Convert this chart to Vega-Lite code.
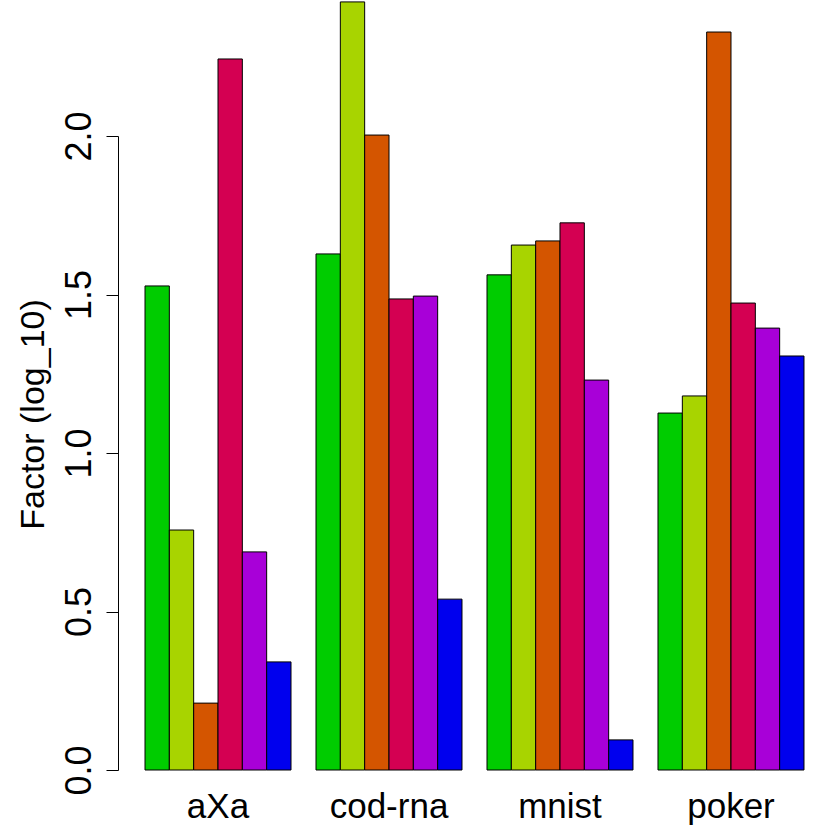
{
  "$schema": "https://vega.github.io/schema/vega-lite/v6.json",
  "autosize": {"type": "none"},
  "width": 713,
  "height": 634,
  "padding": {"left": 118, "top": 136, "right": 0, "bottom": 60},
  "background": "white",
  "config": {"view": {"stroke": null}, "font": "Liberation Sans"},
  "data": {"values": [
    {"dataset": "aXa", "method": "m1", "value": 1.527},
    {"dataset": "aXa", "method": "m2", "value": 0.757},
    {"dataset": "aXa", "method": "m3", "value": 0.211},
    {"dataset": "aXa", "method": "m4", "value": 2.243},
    {"dataset": "aXa", "method": "m5", "value": 0.688},
    {"dataset": "aXa", "method": "m6", "value": 0.341},
    {"dataset": "cod-rna", "method": "m1", "value": 1.628},
    {"dataset": "cod-rna", "method": "m2", "value": 2.423},
    {"dataset": "cod-rna", "method": "m3", "value": 2.003},
    {"dataset": "cod-rna", "method": "m4", "value": 1.486},
    {"dataset": "cod-rna", "method": "m5", "value": 1.495},
    {"dataset": "cod-rna", "method": "m6", "value": 0.539},
    {"dataset": "mnist", "method": "m1", "value": 1.562},
    {"dataset": "mnist", "method": "m2", "value": 1.656},
    {"dataset": "mnist", "method": "m3", "value": 1.669},
    {"dataset": "mnist", "method": "m4", "value": 1.726},
    {"dataset": "mnist", "method": "m5", "value": 1.230},
    {"dataset": "mnist", "method": "m6", "value": 0.095},
    {"dataset": "poker", "method": "m1", "value": 1.126},
    {"dataset": "poker", "method": "m2", "value": 1.180},
    {"dataset": "poker", "method": "m3", "value": 2.328},
    {"dataset": "poker", "method": "m4", "value": 1.473},
    {"dataset": "poker", "method": "m5", "value": 1.394},
    {"dataset": "poker", "method": "m6", "value": 1.306}
  ]},
  "mark": {"type": "bar", "stroke": "black", "strokeWidth": 1, "opacity": 1},
  "encoding": {
    "x": {
      "field": "dataset", "type": "nominal",
      "scale": {"paddingInner": 0.1462, "paddingOuter": 0.1579},
      "axis": {
        "title": null, "domain": false, "ticks": false, "tickSize": 0,
        "labelAngle": 0, "labelFontSize": 35, "labelColor": "black",
        "labelBaseline": "alphabetic", "labelPadding": 47, "labelFont": "Liberation Sans"
      }
    },
    "xOffset": {
      "field": "method", "type": "nominal",
      "scale": {"paddingInner": 0, "paddingOuter": 0}
    },
    "y": {
      "field": "value", "type": "quantitative",
      "scale": {"domain": [0, 2], "nice": false, "zero": true},
      "axis": {
        "title": "Factor (log_10)",
        "values": [0, 0.5, 1, 1.5, 2], "format": ".1f",
        "grid": false, "domainColor": "black", "domainWidth": 1,
        "tickColor": "black", "tickSize": 12, "tickWidth": 1,
        "labelAngle": -90, "labelAlign": "center", "labelBaseline": "alphabetic",
        "labelPadding": 16, "labelFontSize": 36, "labelColor": "black", "labelFont": "Liberation Sans",
        "titleFontSize": 34, "titleFontWeight": "normal", "titleColor": "black", "titleFont": "Liberation Sans",
        "titleAngle": -90, "titleAlign": "center", "titleBaseline": "alphabetic",
        "titleX": -75, "titleY": 278
      }
    },
    "fill": {
      "field": "method", "type": "nominal",
      "scale": {"domain": ["m1", "m2", "m3", "m4", "m5", "m6"],
                "range": ["#00CC00", "#A8D400", "#D45500", "#D40052", "#A800D8", "#0000EE"]},
      "legend": null
    }
  }
}
